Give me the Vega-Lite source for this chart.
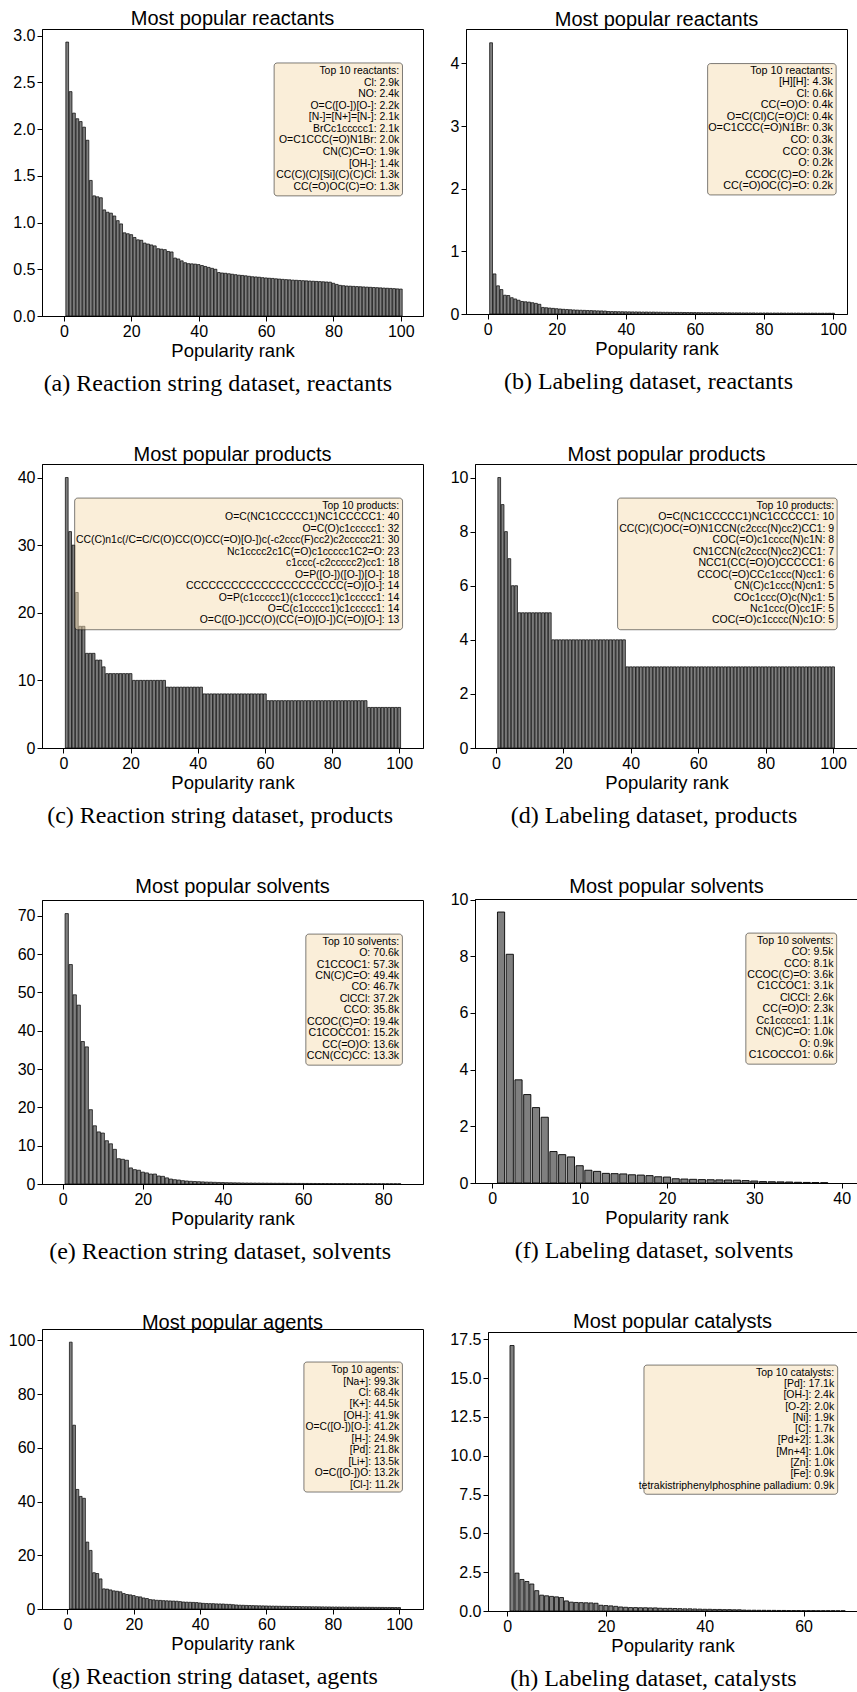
{
"$schema": "https://vega.github.io/schema/vega-lite/v6.json",
"background": "white",
"padding": {"left": 6, "top": 8, "right": 0, "bottom": 0},
"config": {
  "view": {"stroke": "black", "strokeWidth": 1},
  "axis": {"grid": false, "domainColor": "black", "tickColor": "black", "labelColor": "black", "titleColor": "black", "labelFont": "Liberation Sans", "titleFont": "Liberation Sans", "labelFontSize": 16, "titleFontSize": 18.5, "titleFontWeight": "normal", "tickSize": 5, "labelPadding": 2, "titlePadding": 2, "labelFlush": false, "labelOverlap": false},
  "title": {"font": "Liberation Sans", "fontSize": 20, "fontWeight": "normal", "color": "black"},
  "text": {"font": "Liberation Sans", "color": "black"}
},
"datasets": {
  "a": [{"rank":1,"count":2.93},{"rank":2,"count":2.40},{"rank":3,"count":2.17},{"rank":4,"count":2.11},{"rank":5,"count":2.08},{"rank":6,"count":2.02},{"rank":7,"count":1.88},{"rank":8,"count":1.45},{"rank":9,"count":1.285},{"rank":10,"count":1.275},{"rank":11,"count":1.265},{"rank":12,"count":1.135},{"rank":13,"count":1.11},{"rank":14,"count":1.10},{"rank":15,"count":1.07},{"rank":16,"count":1.02},{"rank":17,"count":0.985},{"rank":18,"count":0.89},{"rank":19,"count":0.88},{"rank":20,"count":0.87},{"rank":21,"count":0.84},{"rank":22,"count":0.815},{"rank":23,"count":0.81},{"rank":24,"count":0.78},{"rank":25,"count":0.77},{"rank":26,"count":0.76},{"rank":27,"count":0.75},{"rank":28,"count":0.72},{"rank":29,"count":0.715},{"rank":30,"count":0.71},{"rank":31,"count":0.69},{"rank":32,"count":0.685},{"rank":33,"count":0.62},{"rank":34,"count":0.61},{"rank":35,"count":0.59},{"rank":36,"count":0.57},{"rank":37,"count":0.56},{"rank":38,"count":0.558},{"rank":39,"count":0.555},{"rank":40,"count":0.55},{"rank":41,"count":0.54},{"rank":42,"count":0.53},{"rank":43,"count":0.52},{"rank":44,"count":0.51},{"rank":45,"count":0.50},{"rank":46,"count":0.465},{"rank":47,"count":0.46},{"rank":48,"count":0.457},{"rank":49,"count":0.452},{"rank":50,"count":0.447},{"rank":51,"count":0.442},{"rank":52,"count":0.437},{"rank":53,"count":0.434},{"rank":54,"count":0.43},{"rank":55,"count":0.425},{"rank":56,"count":0.42},{"rank":57,"count":0.418},{"rank":58,"count":0.415},{"rank":59,"count":0.41},{"rank":60,"count":0.407},{"rank":61,"count":0.404},{"rank":62,"count":0.402},{"rank":63,"count":0.398},{"rank":64,"count":0.395},{"rank":65,"count":0.392},{"rank":66,"count":0.389},{"rank":67,"count":0.387},{"rank":68,"count":0.384},{"rank":69,"count":0.382},{"rank":70,"count":0.38},{"rank":71,"count":0.378},{"rank":72,"count":0.376},{"rank":73,"count":0.374},{"rank":74,"count":0.372},{"rank":75,"count":0.37},{"rank":76,"count":0.368},{"rank":77,"count":0.366},{"rank":78,"count":0.364},{"rank":79,"count":0.362},{"rank":80,"count":0.35},{"rank":81,"count":0.338},{"rank":82,"count":0.328},{"rank":83,"count":0.324},{"rank":84,"count":0.321},{"rank":85,"count":0.319},{"rank":86,"count":0.317},{"rank":87,"count":0.315},{"rank":88,"count":0.313},{"rank":89,"count":0.311},{"rank":90,"count":0.309},{"rank":91,"count":0.307},{"rank":92,"count":0.305},{"rank":93,"count":0.303},{"rank":94,"count":0.301},{"rank":95,"count":0.299},{"rank":96,"count":0.297},{"rank":97,"count":0.295},{"rank":98,"count":0.293},{"rank":99,"count":0.29},{"rank":100,"count":0.288}],
  "b": [{"rank":1,"count":4.33},{"rank":2,"count":0.64},{"rank":3,"count":0.45},{"rank":4,"count":0.39},{"rank":5,"count":0.30},{"rank":6,"count":0.295},{"rank":7,"count":0.26},{"rank":8,"count":0.24},{"rank":9,"count":0.22},{"rank":10,"count":0.20},{"rank":11,"count":0.195},{"rank":12,"count":0.19},{"rank":13,"count":0.18},{"rank":14,"count":0.17},{"rank":15,"count":0.155},{"rank":16,"count":0.105},{"rank":17,"count":0.10},{"rank":18,"count":0.095},{"rank":19,"count":0.09},{"rank":20,"count":0.085},{"rank":21,"count":0.08},{"rank":22,"count":0.075},{"rank":23,"count":0.072},{"rank":24,"count":0.068},{"rank":25,"count":0.065},{"rank":26,"count":0.062},{"rank":27,"count":0.06},{"rank":28,"count":0.058},{"rank":29,"count":0.056},{"rank":30,"count":0.054},{"rank":31,"count":0.052},{"rank":32,"count":0.05},{"rank":33,"count":0.049},{"rank":34,"count":0.047},{"rank":35,"count":0.04},{"rank":36,"count":0.039},{"rank":37,"count":0.038},{"rank":38,"count":0.037},{"rank":39,"count":0.036},{"rank":40,"count":0.035},{"rank":41,"count":0.034},{"rank":42,"count":0.033},{"rank":43,"count":0.033},{"rank":44,"count":0.032},{"rank":45,"count":0.031},{"rank":46,"count":0.031},{"rank":47,"count":0.03},{"rank":48,"count":0.03},{"rank":49,"count":0.029},{"rank":50,"count":0.028},{"rank":51,"count":0.027},{"rank":52,"count":0.027},{"rank":53,"count":0.026},{"rank":54,"count":0.026},{"rank":55,"count":0.025},{"rank":56,"count":0.025},{"rank":57,"count":0.024},{"rank":58,"count":0.024},{"rank":59,"count":0.023},{"rank":60,"count":0.023},{"rank":61,"count":0.022},{"rank":62,"count":0.022},{"rank":63,"count":0.021},{"rank":64,"count":0.021},{"rank":65,"count":0.021},{"rank":66,"count":0.02},{"rank":67,"count":0.02},{"rank":68,"count":0.02},{"rank":69,"count":0.019},{"rank":70,"count":0.019},{"rank":71,"count":0.018},{"rank":72,"count":0.018},{"rank":73,"count":0.018},{"rank":74,"count":0.017},{"rank":75,"count":0.017},{"rank":76,"count":0.017},{"rank":77,"count":0.017},{"rank":78,"count":0.016},{"rank":79,"count":0.016},{"rank":80,"count":0.016},{"rank":81,"count":0.016},{"rank":82,"count":0.015},{"rank":83,"count":0.015},{"rank":84,"count":0.015},{"rank":85,"count":0.015},{"rank":86,"count":0.014},{"rank":87,"count":0.014},{"rank":88,"count":0.014},{"rank":89,"count":0.014},{"rank":90,"count":0.014},{"rank":91,"count":0.013},{"rank":92,"count":0.013},{"rank":93,"count":0.013},{"rank":94,"count":0.013},{"rank":95,"count":0.013},{"rank":96,"count":0.012},{"rank":97,"count":0.012},{"rank":98,"count":0.012},{"rank":99,"count":0.012},{"rank":100,"count":0.012}],
  "c": [{"rank":1,"count":40},{"rank":2,"count":32},{"rank":3,"count":30},{"rank":4,"count":23},{"rank":5,"count":18},{"rank":6,"count":18},{"rank":7,"count":14},{"rank":8,"count":14},{"rank":9,"count":14},{"rank":10,"count":13},{"rank":11,"count":13},{"rank":12,"count":12},{"rank":13,"count":11},{"rank":14,"count":11},{"rank":15,"count":11},{"rank":16,"count":11},{"rank":17,"count":11},{"rank":18,"count":11},{"rank":19,"count":11},{"rank":20,"count":11},{"rank":21,"count":10},{"rank":22,"count":10},{"rank":23,"count":10},{"rank":24,"count":10},{"rank":25,"count":10},{"rank":26,"count":10},{"rank":27,"count":10},{"rank":28,"count":10},{"rank":29,"count":10},{"rank":30,"count":10},{"rank":31,"count":9},{"rank":32,"count":9},{"rank":33,"count":9},{"rank":34,"count":9},{"rank":35,"count":9},{"rank":36,"count":9},{"rank":37,"count":9},{"rank":38,"count":9},{"rank":39,"count":9},{"rank":40,"count":9},{"rank":41,"count":9},{"rank":42,"count":8},{"rank":43,"count":8},{"rank":44,"count":8},{"rank":45,"count":8},{"rank":46,"count":8},{"rank":47,"count":8},{"rank":48,"count":8},{"rank":49,"count":8},{"rank":50,"count":8},{"rank":51,"count":8},{"rank":52,"count":8},{"rank":53,"count":8},{"rank":54,"count":8},{"rank":55,"count":8},{"rank":56,"count":8},{"rank":57,"count":8},{"rank":58,"count":8},{"rank":59,"count":8},{"rank":60,"count":8},{"rank":61,"count":7},{"rank":62,"count":7},{"rank":63,"count":7},{"rank":64,"count":7},{"rank":65,"count":7},{"rank":66,"count":7},{"rank":67,"count":7},{"rank":68,"count":7},{"rank":69,"count":7},{"rank":70,"count":7},{"rank":71,"count":7},{"rank":72,"count":7},{"rank":73,"count":7},{"rank":74,"count":7},{"rank":75,"count":7},{"rank":76,"count":7},{"rank":77,"count":7},{"rank":78,"count":7},{"rank":79,"count":7},{"rank":80,"count":7},{"rank":81,"count":7},{"rank":82,"count":7},{"rank":83,"count":7},{"rank":84,"count":7},{"rank":85,"count":7},{"rank":86,"count":7},{"rank":87,"count":7},{"rank":88,"count":7},{"rank":89,"count":7},{"rank":90,"count":7},{"rank":91,"count":6},{"rank":92,"count":6},{"rank":93,"count":6},{"rank":94,"count":6},{"rank":95,"count":6},{"rank":96,"count":6},{"rank":97,"count":6},{"rank":98,"count":6},{"rank":99,"count":6},{"rank":100,"count":6}],
  "d": [{"rank":1,"count":10},{"rank":2,"count":9},{"rank":3,"count":8},{"rank":4,"count":7},{"rank":5,"count":6},{"rank":6,"count":6},{"rank":7,"count":5},{"rank":8,"count":5},{"rank":9,"count":5},{"rank":10,"count":5},{"rank":11,"count":5},{"rank":12,"count":5},{"rank":13,"count":5},{"rank":14,"count":5},{"rank":15,"count":5},{"rank":16,"count":5},{"rank":17,"count":4},{"rank":18,"count":4},{"rank":19,"count":4},{"rank":20,"count":4},{"rank":21,"count":4},{"rank":22,"count":4},{"rank":23,"count":4},{"rank":24,"count":4},{"rank":25,"count":4},{"rank":26,"count":4},{"rank":27,"count":4},{"rank":28,"count":4},{"rank":29,"count":4},{"rank":30,"count":4},{"rank":31,"count":4},{"rank":32,"count":4},{"rank":33,"count":4},{"rank":34,"count":4},{"rank":35,"count":4},{"rank":36,"count":4},{"rank":37,"count":4},{"rank":38,"count":4},{"rank":39,"count":3},{"rank":40,"count":3},{"rank":41,"count":3},{"rank":42,"count":3},{"rank":43,"count":3},{"rank":44,"count":3},{"rank":45,"count":3},{"rank":46,"count":3},{"rank":47,"count":3},{"rank":48,"count":3},{"rank":49,"count":3},{"rank":50,"count":3},{"rank":51,"count":3},{"rank":52,"count":3},{"rank":53,"count":3},{"rank":54,"count":3},{"rank":55,"count":3},{"rank":56,"count":3},{"rank":57,"count":3},{"rank":58,"count":3},{"rank":59,"count":3},{"rank":60,"count":3},{"rank":61,"count":3},{"rank":62,"count":3},{"rank":63,"count":3},{"rank":64,"count":3},{"rank":65,"count":3},{"rank":66,"count":3},{"rank":67,"count":3},{"rank":68,"count":3},{"rank":69,"count":3},{"rank":70,"count":3},{"rank":71,"count":3},{"rank":72,"count":3},{"rank":73,"count":3},{"rank":74,"count":3},{"rank":75,"count":3},{"rank":76,"count":3},{"rank":77,"count":3},{"rank":78,"count":3},{"rank":79,"count":3},{"rank":80,"count":3},{"rank":81,"count":3},{"rank":82,"count":3},{"rank":83,"count":3},{"rank":84,"count":3},{"rank":85,"count":3},{"rank":86,"count":3},{"rank":87,"count":3},{"rank":88,"count":3},{"rank":89,"count":3},{"rank":90,"count":3},{"rank":91,"count":3},{"rank":92,"count":3},{"rank":93,"count":3},{"rank":94,"count":3},{"rank":95,"count":3},{"rank":96,"count":3},{"rank":97,"count":3},{"rank":98,"count":3},{"rank":99,"count":3},{"rank":100,"count":3}],
  "e": [{"rank":1,"count":70.6},{"rank":2,"count":57.3},{"rank":3,"count":49.4},{"rank":4,"count":46.7},{"rank":5,"count":37.2},{"rank":6,"count":35.8},{"rank":7,"count":19.4},{"rank":8,"count":15.2},{"rank":9,"count":13.6},{"rank":10,"count":13.3},{"rank":11,"count":11.3},{"rank":12,"count":10.5},{"rank":13,"count":9.05},{"rank":14,"count":6.6},{"rank":15,"count":6.45},{"rank":16,"count":6.2},{"rank":17,"count":4.2},{"rank":18,"count":3.75},{"rank":19,"count":3.6},{"rank":20,"count":3.1},{"rank":21,"count":2.9},{"rank":22,"count":2.6},{"rank":23,"count":2.6},{"rank":24,"count":2.1},{"rank":25,"count":2.0},{"rank":26,"count":1.6},{"rank":27,"count":1.3},{"rank":28,"count":1.13},{"rank":29,"count":1.04},{"rank":30,"count":0.87},{"rank":31,"count":0.78},{"rank":32,"count":0.7},{"rank":33,"count":0.65},{"rank":34,"count":0.6},{"rank":35,"count":0.55},{"rank":36,"count":0.5},{"rank":37,"count":0.48},{"rank":38,"count":0.44},{"rank":39,"count":0.4},{"rank":40,"count":0.38},{"rank":41,"count":0.35},{"rank":42,"count":0.33},{"rank":43,"count":0.31},{"rank":44,"count":0.29},{"rank":45,"count":0.27},{"rank":46,"count":0.26},{"rank":47,"count":0.25},{"rank":48,"count":0.24},{"rank":49,"count":0.23},{"rank":50,"count":0.22},{"rank":51,"count":0.21},{"rank":52,"count":0.2},{"rank":53,"count":0.19},{"rank":54,"count":0.185},{"rank":55,"count":0.18},{"rank":56,"count":0.17},{"rank":57,"count":0.165},{"rank":58,"count":0.16},{"rank":59,"count":0.155},{"rank":60,"count":0.15},{"rank":61,"count":0.145},{"rank":62,"count":0.14},{"rank":63,"count":0.135},{"rank":64,"count":0.13},{"rank":65,"count":0.125},{"rank":66,"count":0.12},{"rank":67,"count":0.115},{"rank":68,"count":0.11},{"rank":69,"count":0.105},{"rank":70,"count":0.1},{"rank":71,"count":0.097},{"rank":72,"count":0.094},{"rank":73,"count":0.091},{"rank":74,"count":0.088},{"rank":75,"count":0.085},{"rank":76,"count":0.082},{"rank":77,"count":0.079},{"rank":78,"count":0.076},{"rank":79,"count":0.073},{"rank":80,"count":0.07},{"rank":81,"count":0.067},{"rank":82,"count":0.064},{"rank":83,"count":0.061},{"rank":84,"count":0.058}],
  "f": [{"rank":1,"count":9.56},{"rank":2,"count":8.07},{"rank":3,"count":3.64},{"rank":4,"count":3.12},{"rank":5,"count":2.66},{"rank":6,"count":2.32},{"rank":7,"count":1.11},{"rank":8,"count":1.0},{"rank":9,"count":0.92},{"rank":10,"count":0.61},{"rank":11,"count":0.45},{"rank":12,"count":0.41},{"rank":13,"count":0.34},{"rank":14,"count":0.33},{"rank":15,"count":0.32},{"rank":16,"count":0.29},{"rank":17,"count":0.28},{"rank":18,"count":0.26},{"rank":19,"count":0.22},{"rank":20,"count":0.21},{"rank":21,"count":0.15},{"rank":22,"count":0.14},{"rank":23,"count":0.13},{"rank":24,"count":0.12},{"rank":25,"count":0.115},{"rank":26,"count":0.11},{"rank":27,"count":0.105},{"rank":28,"count":0.1},{"rank":29,"count":0.085},{"rank":30,"count":0.07},{"rank":31,"count":0.05},{"rank":32,"count":0.045},{"rank":33,"count":0.04},{"rank":34,"count":0.035},{"rank":35,"count":0.025},{"rank":36,"count":0.02},{"rank":37,"count":0.015},{"rank":38,"count":0.01}],
  "g": [{"rank":1,"count":99.3},{"rank":2,"count":68.4},{"rank":3,"count":44.5},{"rank":4,"count":41.9},{"rank":5,"count":41.2},{"rank":6,"count":24.9},{"rank":7,"count":21.8},{"rank":8,"count":13.5},{"rank":9,"count":13.2},{"rank":10,"count":11.2},{"rank":11,"count":7.5},{"rank":12,"count":7.4},{"rank":13,"count":7.1},{"rank":14,"count":6.75},{"rank":15,"count":6.6},{"rank":16,"count":6.4},{"rank":17,"count":5.75},{"rank":18,"count":5.4},{"rank":19,"count":5.25},{"rank":20,"count":5.0},{"rank":21,"count":4.6},{"rank":22,"count":4.5},{"rank":23,"count":4.1},{"rank":24,"count":3.9},{"rank":25,"count":3.5},{"rank":26,"count":3.4},{"rank":27,"count":3.25},{"rank":28,"count":3.2},{"rank":29,"count":3.1},{"rank":30,"count":3.05},{"rank":31,"count":3.0},{"rank":32,"count":2.95},{"rank":33,"count":2.9},{"rank":34,"count":2.75},{"rank":35,"count":2.6},{"rank":36,"count":2.55},{"rank":37,"count":2.5},{"rank":38,"count":2.45},{"rank":39,"count":2.4},{"rank":40,"count":2.25},{"rank":41,"count":2.1},{"rank":42,"count":2.05},{"rank":43,"count":2.0},{"rank":44,"count":1.98},{"rank":45,"count":1.9},{"rank":46,"count":1.88},{"rank":47,"count":1.85},{"rank":48,"count":1.75},{"rank":49,"count":1.72},{"rank":50,"count":1.6},{"rank":51,"count":1.5},{"rank":52,"count":1.42},{"rank":53,"count":1.38},{"rank":54,"count":1.33},{"rank":55,"count":1.3},{"rank":56,"count":1.26},{"rank":57,"count":1.22},{"rank":58,"count":1.19},{"rank":59,"count":1.16},{"rank":60,"count":1.13},{"rank":61,"count":1.1},{"rank":62,"count":1.07},{"rank":63,"count":1.05},{"rank":64,"count":1.02},{"rank":65,"count":1.0},{"rank":66,"count":0.98},{"rank":67,"count":0.96},{"rank":68,"count":0.94},{"rank":69,"count":0.92},{"rank":70,"count":0.9},{"rank":71,"count":0.88},{"rank":72,"count":0.86},{"rank":73,"count":0.85},{"rank":74,"count":0.83},{"rank":75,"count":0.82},{"rank":76,"count":0.8},{"rank":77,"count":0.79},{"rank":78,"count":0.77},{"rank":79,"count":0.76},{"rank":80,"count":0.75},{"rank":81,"count":0.74},{"rank":82,"count":0.72},{"rank":83,"count":0.71},{"rank":84,"count":0.7},{"rank":85,"count":0.69},{"rank":86,"count":0.68},{"rank":87,"count":0.67},{"rank":88,"count":0.66},{"rank":89,"count":0.65},{"rank":90,"count":0.64},{"rank":91,"count":0.63},{"rank":92,"count":0.62},{"rank":93,"count":0.61},{"rank":94,"count":0.6},{"rank":95,"count":0.59},{"rank":96,"count":0.58},{"rank":97,"count":0.57},{"rank":98,"count":0.56},{"rank":99,"count":0.55},{"rank":100,"count":0.54}],
  "h": [{"rank":1,"count":17.1},{"rank":2,"count":2.44},{"rank":3,"count":2.03},{"rank":4,"count":1.9},{"rank":5,"count":1.74},{"rank":6,"count":1.31},{"rank":7,"count":1.02},{"rank":8,"count":0.98},{"rank":9,"count":0.94},{"rank":10,"count":0.91},{"rank":11,"count":0.87},{"rank":12,"count":0.65},{"rank":13,"count":0.57},{"rank":14,"count":0.55},{"rank":15,"count":0.54},{"rank":16,"count":0.53},{"rank":17,"count":0.52},{"rank":18,"count":0.5},{"rank":19,"count":0.37},{"rank":20,"count":0.35},{"rank":21,"count":0.33},{"rank":22,"count":0.3},{"rank":23,"count":0.26},{"rank":24,"count":0.24},{"rank":25,"count":0.22},{"rank":26,"count":0.22},{"rank":27,"count":0.21},{"rank":28,"count":0.21},{"rank":29,"count":0.2},{"rank":30,"count":0.2},{"rank":31,"count":0.18},{"rank":32,"count":0.17},{"rank":33,"count":0.17},{"rank":34,"count":0.16},{"rank":35,"count":0.15},{"rank":36,"count":0.14},{"rank":37,"count":0.14},{"rank":38,"count":0.13},{"rank":39,"count":0.12},{"rank":40,"count":0.11},{"rank":41,"count":0.11},{"rank":42,"count":0.1},{"rank":43,"count":0.1},{"rank":44,"count":0.09},{"rank":45,"count":0.09},{"rank":46,"count":0.08},{"rank":47,"count":0.08},{"rank":48,"count":0.06},{"rank":49,"count":0.05},{"rank":50,"count":0.05},{"rank":51,"count":0.045},{"rank":52,"count":0.045},{"rank":53,"count":0.04},{"rank":54,"count":0.04},{"rank":55,"count":0.035},{"rank":56,"count":0.035},{"rank":57,"count":0.03},{"rank":58,"count":0.03},{"rank":59,"count":0.03},{"rank":60,"count":0.025},{"rank":61,"count":0.025},{"rank":62,"count":0.025},{"rank":63,"count":0.02},{"rank":64,"count":0.02},{"rank":65,"count":0.02},{"rank":66,"count":0.02},{"rank":67,"count":0.015},{"rank":68,"count":0.015}],
  "la": [{"line":0,"label":"Top 10 reactants:"},{"line":1,"label":"Cl: 2.9k"},{"line":2,"label":"NO: 2.4k"},{"line":3,"label":"O=C([O-])[O-]: 2.2k"},{"line":4,"label":"[N-]=[N+]=[N-]: 2.1k"},{"line":5,"label":"BrCc1ccccc1: 2.1k"},{"line":6,"label":"O=C1CCC(=O)N1Br: 2.0k"},{"line":7,"label":"CN(C)C=O: 1.9k"},{"line":8,"label":"[OH-]: 1.4k"},{"line":9,"label":"CC(C)(C)[Si](C)(C)Cl: 1.3k"},{"line":10,"label":"CC(=O)OC(C)=O: 1.3k"}],
  "lb": [{"line":0,"label":"Top 10 reactants:"},{"line":1,"label":"[H][H]: 4.3k"},{"line":2,"label":"Cl: 0.6k"},{"line":3,"label":"CC(=O)O: 0.4k"},{"line":4,"label":"O=C(Cl)C(=O)Cl: 0.4k"},{"line":5,"label":"O=C1CCC(=O)N1Br: 0.3k"},{"line":6,"label":"CO: 0.3k"},{"line":7,"label":"CCO: 0.3k"},{"line":8,"label":"O: 0.2k"},{"line":9,"label":"CCOC(C)=O: 0.2k"},{"line":10,"label":"CC(=O)OC(C)=O: 0.2k"}],
  "lc": [{"line":0,"label":"Top 10 products:"},{"line":1,"label":"O=C(NC1CCCCC1)NC1CCCCC1: 40"},{"line":2,"label":"O=C(O)c1ccccc1: 32"},{"line":3,"label":"CC(C)n1c(/C=C/C(O)CC(O)CC(=O)[O-])c(-c2ccc(F)cc2)c2ccccc21: 30"},{"line":4,"label":"Nc1cccc2c1C(=O)c1ccccc1C2=O: 23"},{"line":5,"label":"c1ccc(-c2ccccc2)cc1: 18"},{"line":6,"label":"O=P([O-])([O-])[O-]: 18"},{"line":7,"label":"CCCCCCCCCCCCCCCCCCCCC(=O)[O-]: 14"},{"line":8,"label":"O=P(c1ccccc1)(c1ccccc1)c1ccccc1: 14"},{"line":9,"label":"O=C(c1ccccc1)c1ccccc1: 14"},{"line":10,"label":"O=C([O-])CC(O)(CC(=O)[O-])C(=O)[O-]: 13"}],
  "ld": [{"line":0,"label":"Top 10 products:"},{"line":1,"label":"O=C(NC1CCCCC1)NC1CCCCC1: 10"},{"line":2,"label":"CC(C)(C)OC(=O)N1CCN(c2ccc(N)cc2)CC1: 9"},{"line":3,"label":"COC(=O)c1cccc(N)c1N: 8"},{"line":4,"label":"CN1CCN(c2ccc(N)cc2)CC1: 7"},{"line":5,"label":"NCC1(CC(=O)O)CCCCC1: 6"},{"line":6,"label":"CCOC(=O)CCc1ccc(N)cc1: 6"},{"line":7,"label":"CN(C)c1ccc(N)cn1: 5"},{"line":8,"label":"COc1ccc(O)c(N)c1: 5"},{"line":9,"label":"Nc1ccc(O)cc1F: 5"},{"line":10,"label":"COC(=O)c1cccc(N)c1O: 5"}],
  "le": [{"line":0,"label":"Top 10 solvents:"},{"line":1,"label":"O: 70.6k"},{"line":2,"label":"C1CCOC1: 57.3k"},{"line":3,"label":"CN(C)C=O: 49.4k"},{"line":4,"label":"CO: 46.7k"},{"line":5,"label":"ClCCl: 37.2k"},{"line":6,"label":"CCO: 35.8k"},{"line":7,"label":"CCOC(C)=O: 19.4k"},{"line":8,"label":"C1COCCO1: 15.2k"},{"line":9,"label":"CC(=O)O: 13.6k"},{"line":10,"label":"CCN(CC)CC: 13.3k"}],
  "lf": [{"line":0,"label":"Top 10 solvents:"},{"line":1,"label":"CO: 9.5k"},{"line":2,"label":"CCO: 8.1k"},{"line":3,"label":"CCOC(C)=O: 3.6k"},{"line":4,"label":"C1CCOC1: 3.1k"},{"line":5,"label":"ClCCl: 2.6k"},{"line":6,"label":"CC(=O)O: 2.3k"},{"line":7,"label":"Cc1ccccc1: 1.1k"},{"line":8,"label":"CN(C)C=O: 1.0k"},{"line":9,"label":"O: 0.9k"},{"line":10,"label":"C1COCCO1: 0.6k"}],
  "lg": [{"line":0,"label":"Top 10 agents:"},{"line":1,"label":"[Na+]: 99.3k"},{"line":2,"label":"Cl: 68.4k"},{"line":3,"label":"[K+]: 44.5k"},{"line":4,"label":"[OH-]: 41.9k"},{"line":5,"label":"O=C([O-])[O-]: 41.2k"},{"line":6,"label":"[H-]: 24.9k"},{"line":7,"label":"[Pd]: 21.8k"},{"line":8,"label":"[Li+]: 13.5k"},{"line":9,"label":"O=C([O-])O: 13.2k"},{"line":10,"label":"[Cl-]: 11.2k"}],
  "lh": [{"line":0,"label":"Top 10 catalysts:"},{"line":1,"label":"[Pd]: 17.1k"},{"line":2,"label":"[OH-]: 2.4k"},{"line":3,"label":"[O-2]: 2.0k"},{"line":4,"label":"[Ni]: 1.9k"},{"line":5,"label":"[C]: 1.7k"},{"line":6,"label":"[Pd+2]: 1.3k"},{"line":7,"label":"[Mn+4]: 1.0k"},{"line":8,"label":"[Zn]: 1.0k"},{"line":9,"label":"[Fe]: 0.9k"},{"line":10,"label":"tetrakistriphenylphosphine palladium: 0.9k"}],
  "box": [{"box": 1}]
},
"columns": 2, "align": "none", "spacing": {"row": 48, "column": 25},
"concat": [
 {"title": {"text": "(a) Reaction string dataset, reactants", "orient": "bottom", "font": "Liberation Serif", "fontSize": 24, "anchor": "middle", "frame": "bounds", "offset": 12},
  "vconcat": [{"width": 381, "height": 287,
   "title": {"text": "Most popular reactants", "frame": "group", "offset": -1},
   "layer": [
    {"data": {"name": "a"}, "mark": {"type": "bar", "orient": "vertical", "size": 2.77, "fill": "#7f7f7f", "stroke": "black", "strokeWidth": 0.7},
     "encoding": {"x": {"field": "rank", "type": "quantitative", "scale": {"domain": [-5.0, 105.1], "nice": false, "zero": false}, "axis": {"values": [0,20,40,60,80,100], "title": "Popularity rank"}},
      "y": {"field": "count", "type": "quantitative", "scale": {"domain": [0, 3.07], "nice": false}, "axis": {"values": [0,0.5,1,1.5,2,2.5,3], "format": ".1f", "title": null}}}},
    {"layer": [
      {"data": {"name": "box"}, "mark": {"type": "rect", "fill": "wheat", "fillOpacity": 0.5, "stroke": "black", "strokeOpacity": 0.5, "strokeWidth": 1, "cornerRadius": 3},
       "encoding": {"x": {"datum": 62.4, "type": "quantitative"}, "x2": {"datum": 100.5}, "y": {"datum": -0.71, "type": "quantitative", "scale": {"domain": [-3.65, 21.2], "reverse": true, "nice": false, "zero": false}, "axis": null}, "y2": {"datum": 10.8}}},
      {"data": {"name": "la"}, "mark": {"type": "text", "align": "right", "baseline": "middle", "fontSize": 10.4},
       "encoding": {"x": {"datum": 99.5, "type": "quantitative"}, "y": {"field": "line", "type": "quantitative"}, "text": {"field": "label"}}}
    ]}
   ],
   "resolve": {"scale": {"y": "independent"}}}]},
 {"title": {"text": "(b) Labeling dataset, reactants", "orient": "bottom", "font": "Liberation Serif", "fontSize": 24, "anchor": "middle", "frame": "bounds", "offset": 12},
  "vconcat": [{"width": 381, "height": 285,
   "title": {"text": "Most popular reactants", "frame": "group", "offset": -1},
   "layer": [
    {"data": {"name": "b"}, "mark": {"type": "bar", "orient": "vertical", "size": 2.84, "fill": "#7f7f7f", "stroke": "black", "strokeWidth": 0.7},
     "encoding": {"x": {"field": "rank", "type": "quantitative", "scale": {"domain": [-4.81, 102.6], "nice": false, "zero": false}, "axis": {"values": [0,20,40,60,80,100], "title": "Popularity rank"}},
      "y": {"field": "count", "type": "quantitative", "scale": {"domain": [0, 4.55], "nice": false}, "axis": {"values": [0,1,2,3,4], "title": null, "minExtent": 16}}}},
    {"layer": [
      {"data": {"name": "box"}, "mark": {"type": "rect", "fill": "wheat", "fillOpacity": 0.5, "stroke": "black", "strokeOpacity": 0.5, "strokeWidth": 1, "cornerRadius": 3},
       "encoding": {"x": {"datum": 63.7, "type": "quantitative"}, "x2": {"datum": 100.9}, "y": {"datum": -0.63, "type": "quantitative", "scale": {"domain": [-3.63, 21.1], "reverse": true, "nice": false, "zero": false}, "axis": null}, "y2": {"datum": 10.77}}},
      {"data": {"name": "lb"}, "mark": {"type": "text", "align": "right", "baseline": "middle", "fontSize": 10.8},
       "encoding": {"x": {"datum": 100.0, "type": "quantitative"}, "y": {"field": "line", "type": "quantitative"}, "text": {"field": "label"}}}
    ]}
   ],
   "resolve": {"scale": {"y": "independent"}}}]},
 {"title": {"text": "(c) Reaction string dataset, products", "orient": "bottom", "font": "Liberation Serif", "fontSize": 24, "anchor": "middle", "frame": "bounds", "offset": 12},
  "vconcat": [{"width": 381, "height": 284,
   "title": {"text": "Most popular products", "frame": "group", "offset": -1},
   "layer": [
    {"data": {"name": "c"}, "mark": {"type": "bar", "orient": "vertical", "size": 2.79, "fill": "#7f7f7f", "stroke": "black", "strokeWidth": 0.7},
     "encoding": {"x": {"field": "rank", "type": "quantitative", "scale": {"domain": [-4.88, 105.6], "nice": false, "zero": false}, "axis": {"values": [0,20,40,60,80,100], "title": "Popularity rank"}},
      "y": {"field": "count", "type": "quantitative", "scale": {"domain": [0, 42], "nice": false}, "axis": {"values": [0,10,20,30,40], "title": null}}}},
    {"layer": [
      {"data": {"name": "box"}, "mark": {"type": "rect", "fill": "wheat", "fillOpacity": 0.5, "stroke": "black", "strokeOpacity": 0.5, "strokeWidth": 1, "cornerRadius": 3},
       "encoding": {"x": {"datum": 3.36, "type": "quantitative"}, "x2": {"datum": 101.0}, "y": {"datum": -0.67, "type": "quantitative", "scale": {"domain": [-3.64, 21.12], "reverse": true, "nice": false, "zero": false}, "axis": null}, "y2": {"datum": 10.81}}},
      {"data": {"name": "lc"}, "mark": {"type": "text", "align": "right", "baseline": "middle", "fontSize": 10.4},
       "encoding": {"x": {"datum": 100.0, "type": "quantitative"}, "y": {"field": "line", "type": "quantitative"}, "text": {"field": "label"}}}
    ]}
   ],
   "resolve": {"scale": {"y": "independent"}}}]},
 {"title": {"text": "(d) Labeling dataset, products", "orient": "bottom", "font": "Liberation Serif", "fontSize": 24, "anchor": "middle", "frame": "bounds", "offset": 12},
  "vconcat": [{"width": 383, "height": 284,
   "title": {"text": "Most popular products", "frame": "group", "offset": -1},
   "layer": [
    {"data": {"name": "d"}, "mark": {"type": "bar", "orient": "vertical", "size": 2.77, "fill": "#7f7f7f", "stroke": "black", "strokeWidth": 0.7},
     "encoding": {"x": {"field": "rank", "type": "quantitative", "scale": {"domain": [-4.7, 105.9], "nice": false, "zero": false}, "axis": {"values": [0,20,40,60,80,100], "title": "Popularity rank"}},
      "y": {"field": "count", "type": "quantitative", "scale": {"domain": [0, 10.5], "nice": false}, "axis": {"values": [0,2,4,6,8,10], "title": null, "minExtent": 25}}}},
    {"layer": [
      {"data": {"name": "box"}, "mark": {"type": "rect", "fill": "wheat", "fillOpacity": 0.5, "stroke": "black", "strokeOpacity": 0.5, "strokeWidth": 1, "cornerRadius": 3},
       "encoding": {"x": {"datum": 36.1, "type": "quantitative"}, "x2": {"datum": 101.2}, "y": {"datum": -0.67, "type": "quantitative", "scale": {"domain": [-3.64, 21.12], "reverse": true, "nice": false, "zero": false}, "axis": null}, "y2": {"datum": 10.81}}},
      {"data": {"name": "ld"}, "mark": {"type": "text", "align": "right", "baseline": "middle", "fontSize": 10.5},
       "encoding": {"x": {"datum": 100.3, "type": "quantitative"}, "y": {"field": "line", "type": "quantitative"}, "text": {"field": "label"}}}
    ]}
   ],
   "resolve": {"scale": {"y": "independent"}}}]},
 {"title": {"text": "(e) Reaction string dataset, solvents", "orient": "bottom", "font": "Liberation Serif", "fontSize": 24, "anchor": "middle", "frame": "bounds", "offset": 12},
  "vconcat": [{"width": 381, "height": 284,
   "title": {"text": "Most popular solvents", "frame": "group", "offset": 3},
   "layer": [
    {"data": {"name": "e"}, "mark": {"type": "bar", "orient": "vertical", "size": 3.32, "fill": "#7f7f7f", "stroke": "black", "strokeWidth": 0.7},
     "encoding": {"x": {"field": "rank", "type": "quantitative", "scale": {"domain": [-3.92, 88.7], "nice": false, "zero": false}, "axis": {"values": [0,20,40,60,80], "title": "Popularity rank"}},
      "y": {"field": "count", "type": "quantitative", "scale": {"domain": [0, 74.15], "nice": false}, "axis": {"values": [0,10,20,30,40,50,60,70], "title": null}}}},
    {"layer": [
      {"data": {"name": "box"}, "mark": {"type": "rect", "fill": "wheat", "fillOpacity": 0.5, "stroke": "black", "strokeOpacity": 0.5, "strokeWidth": 1, "cornerRadius": 3},
       "encoding": {"x": {"datum": 60.7, "type": "quantitative"}, "x2": {"datum": 84.8}, "y": {"datum": -0.66, "type": "quantitative", "scale": {"domain": [-3.64, 21.19], "reverse": true, "nice": false, "zero": false}, "axis": null}, "y2": {"datum": 10.8}}},
      {"data": {"name": "le"}, "mark": {"type": "text", "align": "right", "baseline": "middle", "fontSize": 10.6},
       "encoding": {"x": {"datum": 84.0, "type": "quantitative"}, "y": {"field": "line", "type": "quantitative"}, "text": {"field": "label"}}}
    ]}
   ],
   "resolve": {"scale": {"y": "independent"}}}]},
 {"title": {"text": "(f) Labeling dataset, solvents", "orient": "bottom", "font": "Liberation Serif", "fontSize": 24, "anchor": "middle", "frame": "bounds", "offset": 12},
  "vconcat": [{"width": 383, "height": 284,
   "title": {"text": "Most popular solvents", "frame": "group", "offset": -5},
   "layer": [
    {"data": {"name": "f"}, "mark": {"type": "bar", "orient": "vertical", "size": 7.17, "fill": "#7f7f7f", "stroke": "black", "strokeWidth": 0.9},
     "encoding": {"x": {"field": "rank", "type": "quantitative", "scale": {"domain": [-1.41, 41.3], "nice": false, "zero": false}, "axis": {"values": [0,10,20,30,40], "title": "Popularity rank"}},
      "y": {"field": "count", "type": "quantitative", "scale": {"domain": [0, 10.02], "nice": false}, "axis": {"values": [0,2,4,6,8,10], "title": null, "minExtent": 25}}}},
    {"layer": [
      {"data": {"name": "box"}, "mark": {"type": "rect", "fill": "wheat", "fillOpacity": 0.5, "stroke": "black", "strokeOpacity": 0.5, "strokeWidth": 1, "cornerRadius": 3},
       "encoding": {"x": {"datum": 29.03, "type": "quantitative"}, "x2": {"datum": 39.43}, "y": {"datum": -0.66, "type": "quantitative", "scale": {"domain": [-3.64, 21.19], "reverse": true, "nice": false, "zero": false}, "axis": null}, "y2": {"datum": 10.8}}},
      {"data": {"name": "lf"}, "mark": {"type": "text", "align": "right", "baseline": "middle", "fontSize": 10.6},
       "encoding": {"x": {"datum": 39.07, "type": "quantitative"}, "y": {"field": "line", "type": "quantitative"}, "text": {"field": "label"}}}
    ]}
   ],
   "resolve": {"scale": {"y": "independent"}}}]},
 {"title": {"text": "(g) Reaction string dataset, agents", "orient": "bottom", "font": "Liberation Serif", "fontSize": 24, "anchor": "middle", "frame": "bounds", "offset": 12},
  "vconcat": [{"width": 381, "height": 280,
   "title": {"text": "Most popular agents", "frame": "group", "offset": -4},
   "layer": [
    {"data": {"name": "g"}, "mark": {"type": "bar", "orient": "vertical", "size": 2.72, "fill": "#7f7f7f", "stroke": "black", "strokeWidth": 0.7},
     "encoding": {"x": {"field": "rank", "type": "quantitative", "scale": {"domain": [-6.17, 105.7], "nice": false, "zero": false}, "axis": {"values": [0,20,40,60,80,100], "title": "Popularity rank"}},
      "y": {"field": "count", "type": "quantitative", "scale": {"domain": [0, 104.2], "nice": false}, "axis": {"values": [0,20,40,60,80,100], "title": null, "minExtent": 35}}}},
    {"layer": [
      {"data": {"name": "box"}, "mark": {"type": "rect", "fill": "wheat", "fillOpacity": 0.5, "stroke": "black", "strokeOpacity": 0.5, "strokeWidth": 1, "cornerRadius": 3},
       "encoding": {"x": {"datum": 71.3, "type": "quantitative"}, "x2": {"datum": 101.0}, "y": {"datum": -0.7, "type": "quantitative", "scale": {"domain": [-3.58, 20.84], "reverse": true, "nice": false, "zero": false}, "axis": null}, "y2": {"datum": 10.64}}},
      {"data": {"name": "lg"}, "mark": {"type": "text", "align": "right", "baseline": "middle", "fontSize": 10.3},
       "encoding": {"x": {"datum": 100.0, "type": "quantitative"}, "y": {"field": "line", "type": "quantitative"}, "text": {"field": "label"}}}
    ]}
   ],
   "resolve": {"scale": {"y": "independent"}}}]},
 {"title": {"text": "(h) Labeling dataset, catalysts", "orient": "bottom", "font": "Liberation Serif", "fontSize": 24, "anchor": "middle", "frame": "bounds", "offset": 12},
  "vconcat": [{"width": 369, "height": 279,
   "title": {"text": "Most popular catalysts", "frame": "group", "offset": -1},
   "layer": [
    {"data": {"name": "h"}, "mark": {"type": "bar", "orient": "vertical", "size": 4.06, "fill": "#7f7f7f", "stroke": "black", "strokeWidth": 0.8},
     "encoding": {"x": {"field": "rank", "type": "quantitative", "scale": {"domain": [-2.85, 69.8], "nice": false, "zero": false}, "axis": {"values": [0,20,40,60], "title": "Popularity rank"}},
      "y": {"field": "count", "type": "quantitative", "scale": {"domain": [0, 17.97], "nice": false}, "axis": {"values": [0,2.5,5,7.5,10,12.5,15,17.5], "format": ".1f", "title": null}}}},
    {"layer": [
      {"data": {"name": "box"}, "mark": {"type": "rect", "fill": "wheat", "fillOpacity": 0.5, "stroke": "black", "strokeOpacity": 0.5, "strokeWidth": 1, "cornerRadius": 3},
       "encoding": {"x": {"datum": 27.7, "type": "quantitative"}, "x2": {"datum": 66.9}, "y": {"datum": -0.66, "type": "quantitative", "scale": {"domain": [-3.58, 21.06], "reverse": true, "nice": false, "zero": false}, "axis": null}, "y2": {"datum": 10.75}}},
      {"data": {"name": "lh"}, "mark": {"type": "text", "align": "right", "baseline": "middle", "fontSize": 10.5},
       "encoding": {"x": {"datum": 66.2, "type": "quantitative"}, "y": {"field": "line", "type": "quantitative"}, "text": {"field": "label"}}}
    ]}
   ],
   "resolve": {"scale": {"y": "independent"}}}]}
]
}
